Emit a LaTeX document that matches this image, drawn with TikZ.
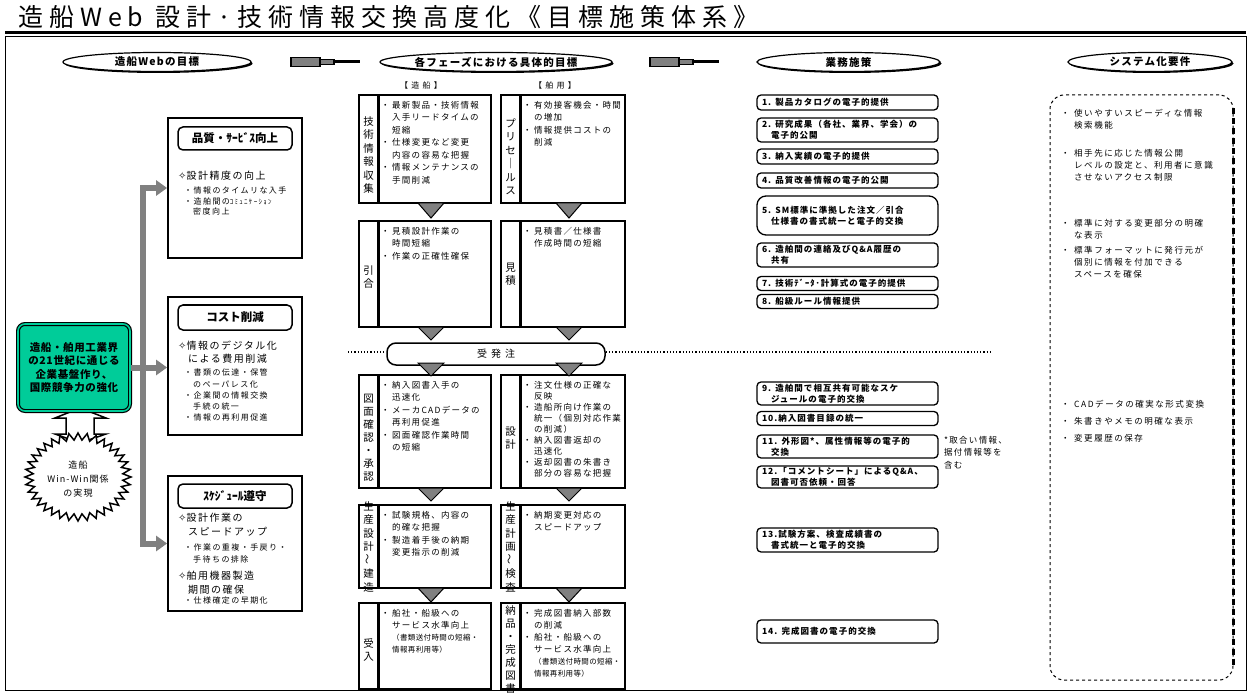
\documentclass[tikz,border=0pt]{standalone}
\usepackage{fontspec}
\setmainfont{Noto Sans CJK JP}
\newfontfamily\dv{DejaVu Sans}
\usetikzlibrary{shapes.geometric,arrows.meta}
\newcommand{\LS}[1]{\addfontfeature{LetterSpace=#1}}
\newcommand{\fsz}[2]{\fontsize{#1}{#2}\selectfont}
\newcommand{\bl}{\makebox[11pt][l]{・}}
\newcommand{\ind}{\hspace*{11pt}}
\newcommand{\sbl}{\makebox[13pt][l]{・}}
\newcommand{\sind}{\hspace*{13pt}}
\newcommand{\dia}{{\dv ✧}}
\newcommand{\til}{\rotatebox{90}{～}}
\definecolor{tealg}{RGB}{0,204,153}
\definecolor{midgray}{RGB}{128,128,128}
\newcommand{\dtri}[3]{\draw[ptri] (#1-13,#2) -- (#1+13,#2) -- (#1,#3) -- cycle;}
\begin{document}
\begin{tikzpicture}[x=1pt,y=-1pt,
  pbox/.style={draw, line width=1.8pt, inner sep=0pt, fill=white},
  pdiv/.style={line width=3pt},
  vlab/.style={font=\fsz{10.5}{13.5}, align=center, inner sep=0pt},
  ptxt/.style={font=\fsz{8.5}{12.5}\LS{15}, align=left, inner sep=0pt, anchor=north west},
  ptri/.style={draw, fill=midgray, line width=1pt, line join=miter},
  goalbox/.style={draw, line width=1.8pt, inner sep=0pt, minimum width=134, fill=white},
  gtitle/.style={draw, line width=1.5pt, rounded corners=5pt, minimum width=114, inner sep=0pt, font=\bfseries\fsz{11.5}{13}},
  gtxt/.style={align=left, inner sep=0pt, anchor=north west},
  hdr/.style={ellipse, draw, line width=1.2pt, fill=white, inner sep=0pt, minimum height=19, font=\bfseries\fsz{10.5}{12}\LS{12}},
  hsh/.style={ellipse, fill=black, inner sep=0pt, minimum height=19},
  mbox/.style={draw, line width=1.3pt, rounded corners=4pt, inner xsep=5pt, inner ysep=1pt, text width=171pt, align=left, font=\bfseries\fsz{8.5}{11}\LS{12}},
  stxt/.style={font=\fsz{8.5}{12}\LS{18}, align=left, inner sep=0pt, anchor=north west},
  gline/.style={line width=6pt, midgray},
  garr/.style={line width=6pt, midgray, -{Triangle[length=11pt,width=15pt]}},
]
\useasboundingbox (0,0) rectangle (1251,695);
\fill[white] (0,0) rectangle (1251,695);

% ---------- title and frame ----------
\node[anchor=west, inner sep=0pt, font=\fsz{25}{30}\LS{24}] (title) at (18,17) {造船Web 設計·技術情報交換高度化《目標施策体系》};
\draw[line width=2.4pt] (5,32.5) -- (1246,32.5);
\draw[line width=0.8pt] (5,36.5) -- (1246,36.5);
\draw[line width=1pt] (5,36.5) -- (5,690) -- (1246,690) -- (1246,36.5);

% ---------- header ellipses ----------
\node[hsh, minimum width=188] (h1s) at (158.5,63.5) {};
\node[hdr, minimum width=188] (h1) at (157,62) {造船Webの目標};
\node[hsh, minimum width=232] (h2s) at (497.5,63.5) {};
\node[hdr, minimum width=232] (h2) at (496,62) {各フェーズにおける具体的目標};
\node[hsh, minimum width=183] (h3s) at (850,63.5) {};
\node[hdr, minimum width=183] (h3) at (848.5,62) {業務施策};
\node[hsh, minimum width=164] (h4s) at (1151.5,63.5) {};
\node[hdr, minimum width=164] (h4) at (1150,62) {システム化要件};

% pipes between headers
\foreach \s in {0pt,359pt}{
 \begin{scope}[xshift=\s]
  \draw[line width=1.2pt, fill=midgray] (291,57.5) rectangle (320,66.5);
  \draw[line width=1.2pt, fill=midgray] (320,59.5) rectangle (334,64.5);
  \fill (334,60.5) rectangle (360,63.5);
 \end{scope}
}

\node[font=\fsz{8}{10}\LS{40}, inner sep=0pt] (hz) at (421,85) {【造船】};
\node[font=\fsz{8}{10}\LS{40}, inner sep=0pt] (hh) at (555,85) {【舶用】};

% ---------- left: goals ----------
% hollow double arrow
\draw[line width=1.5pt, fill=white, line join=miter] (80,408) -- (106,418) -- (94,418) -- (94,434) -- (106,434) -- (80,443) -- (55,434) -- (66,434) -- (66,418) -- (55,418) -- cycle;
\node[draw, line width=1.2pt, double=tealg, double distance=1.6pt, fill=tealg, rounded corners=7pt, minimum width=112, minimum height=87, inner sep=0pt, align=center, font=\bfseries\fsz{10.5}{13.5}\LS{6}] (green) at (74,367.5) {造船・舶用工業界\\の21世紀に通じる\\企業基盤作り、\\国際競争力の強化};

% starburst
\draw[line width=1.5pt, fill=white, line join=miter] (131,477) \foreach \i in {1,...,71} { -- ({78+(53-8*mod(\i,2))*cos(5*\i)}, {477+(44-7*mod(\i,2))*sin(5*\i)}) } -- cycle;
\node[align=center, font=\fsz{9}{14}\LS{12}, inner sep=0pt] (star) at (78,479) {造船\\Win-Win関係\\の実現};

% goal boxes
\node[goalbox, minimum height=140] (b1) at (235,188) {};
\node[gtitle, minimum height=23] (b1h) at (235,138.5) {品質・ｻｰﾋﾞｽ向上};
\node[gtxt, font=\fsz{10}{13}\LS{15}] (b1a) at (178,171) {\dia 設計精度の向上};
\node[gtxt, font=\fsz{8}{10.3}\LS{18}] (b1b) at (184,187) {・情報のタイムリな入手\\・造舶間の{\fsz{7}{10}ｺﾐｭﾆｹｰｼｮﾝ}\\\hspace*{9pt}密度向上};

\node[goalbox, minimum height=138] (b2) at (235,366) {};
\node[gtitle, minimum height=25] (b2h) at (235,317.5) {コスト削減};
\node[gtxt, font=\fsz{10}{13}\LS{15}] (b2a) at (178,341) {\dia 情報のデジタル化\\\hspace*{10pt}による費用削減};
\node[gtxt, font=\fsz{8}{11.2}\LS{18}] (b2b) at (184,369) {・書類の伝達・保管\\\hspace*{9pt}のペーパレス化\\・企業間の情報交換\\\hspace*{9pt}手続の統一\\・情報の再利用促進};

\node[goalbox, minimum height=135] (b3) at (235,543.5) {};
\node[gtitle, minimum height=24] (b3h) at (235,496) {ｽｹｼﾞｭｰﾙ遵守};
\node[gtxt, font=\fsz{10}{14}\LS{15}] (b3a) at (178,513) {\dia 設計作業の\\\hspace*{10pt}スピードアップ};
\node[gtxt, font=\fsz{8}{12}\LS{18}] (b3b) at (184,544) {・作業の重複・手戻り・\\\hspace*{9pt}手待ちの排除};
\node[gtxt, font=\fsz{10}{13.5}\LS{15}] (b3c) at (178,571) {\dia 舶用機器製造\\\hspace*{10pt}期間の確保};
\node[gtxt, font=\fsz{8}{12}\LS{18}] (b3d) at (184,597) {・仕様確定の早期化};

% gray connectors
\coordinate (jt) at (143,188);
\coordinate (jb) at (143,543.5);
\draw[gline, line cap=rect] (jb) -- (jt);
\draw[garr] (jt) -- (b1.west);
\draw[garr] (green.east) -- (green.east -| b2.west);
\draw[garr] (jb) -- (b3.west);

% ---------- middle: phase boxes ----------
% row 1
\node[pbox, minimum width=132, minimum height=108] (l1) at (425,149) {};
\draw[pdiv] (378,95) -- (378,203);
\node[vlab] (l1l) at (368.5,155) {技\\術\\情\\報\\収\\集};
\node[ptxt] (l1t) at (381,101) {\bl 最新製品・技術情報\\\ind 入手リードタイムの\\\ind 短縮\\\bl 仕様変更など変更\\\ind 内容の容易な把握\\\bl 情報メンテナンスの\\\ind 手間削減};
\node[pbox, minimum width=124, minimum height=108] (r1) at (563,149) {};
\draw[pdiv] (520,95) -- (520,203);
\node[vlab] (r1l) at (510.5,157) {プ\\リ\\セ\\｜\\ル\\ス};
\node[ptxt] (r1t) at (523,101) {\bl 有効接客機会・時間\\\ind の増加\\\bl 情報提供コストの\\\ind 削減};
% row 2
\node[pbox, minimum width=132, minimum height=106] (l2) at (425,274) {};
\draw[pdiv] (378,221) -- (378,327);
\node[vlab] (l2l) at (368.5,277) {引\\合};
\node[ptxt] (l2t) at (381,227) {\bl 見積設計作業の\\\ind 時間短縮\\\bl 作業の正確性確保};
\node[pbox, minimum width=124, minimum height=106] (r2) at (563,274) {};
\draw[pdiv] (520,221) -- (520,327);
\node[vlab] (r2l) at (510.5,274) {見\\積};
\node[ptxt] (r2t) at (523,227) {\bl 見積書／仕様書\\\ind 作成時間の短縮};
% order bar
\node[draw, line width=1.5pt, rounded corners=9pt, minimum width=218, minimum height=22, inner sep=0pt, font=\fsz{10}{12}\LS{40}] (jh) at (496,354) {受発注};
\coordinate (dl) at (348,352);
\coordinate (dr) at (990,352);
\draw[dotted, line width=1.2pt] (dl) -- (dl -| jh.west);
\draw[dotted, line width=1.2pt] (dr -| jh.east) -- (dr);
% row 3
\node[pbox, minimum width=132, minimum height=113] (l3) at (425,431.5) {};
\draw[pdiv] (378,375) -- (378,488);
\node[vlab, font=\fsz{10.5}{13}] (l3l) at (368.5,438) {図\\面\\確\\認\\・\\承\\認};
\node[ptxt] (l3t) at (381,381) {\bl 納入図書入手の\\\ind 迅速化\\\bl メーカCADデータの\\\ind 再利用促進\\\bl 図面確認作業時間\\\ind の短縮};
\node[pbox, minimum width=124, minimum height=113] (r3) at (563,431.5) {};
\draw[pdiv] (520,375) -- (520,488);
\node[vlab] (r3l) at (510.5,438) {設\\計};
\node[ptxt, font=\fsz{8.5}{11}\LS{15}] (r3t) at (523,381) {\bl 注文仕様の正確な\\\ind 反映\\\bl 造船所向け作業の\\\ind 統一（個別対応作業\\\ind の削減）\\\bl 納入図書返却の\\\ind 迅速化\\\bl 返却図書の朱書き\\\ind 部分の容易な把握};
% row 4
\node[pbox, minimum width=132, minimum height=83] (l4) at (425,546.5) {};
\draw[pdiv] (378,505) -- (378,588);
\node[vlab, anchor=north] (l4l) at (368.5,501) {生\\産\\設\\計\\\til\\建\\造};
\node[ptxt] (l4t) at (381,511) {\bl 試験規格、内容の\\\ind 的確な把握\\\bl 製造着手後の納期\\\ind 変更指示の削減};
\node[pbox, minimum width=124, minimum height=83] (r4) at (563,546.5) {};
\draw[pdiv] (520,505) -- (520,588);
\node[vlab, anchor=north] (r4l) at (510.5,501) {生\\産\\計\\画\\\til\\検\\査};
\node[ptxt] (r4t) at (523,511) {\bl 納期変更対応の\\\ind スピードアップ};
% row 5
\node[pbox, minimum width=132, minimum height=86] (l5) at (425,646) {};
\draw[pdiv] (378,603) -- (378,689);
\node[vlab] (l5l) at (368.5,650) {受\\入};
\node[ptxt, font=\fsz{8.5}{12}\LS{15}] (l5t) at (381,609) {\bl 船社・船級への\\\ind サービス水準向上\\\ind{\fsz{7.5}{12}\LS{5}（書類送付時間の短縮・}\\\ind{\fsz{7.5}{12}\LS{5}情報再利用等）}};
\node[pbox, minimum width=124, minimum height=86] (r5) at (563,646) {};
\draw[pdiv] (520,603) -- (520,689);
\node[vlab, anchor=north, font=\fsz{10.5}{13}] (r5l) at (510.5,605) {納\\品\\・\\完\\成\\図\\書};
\node[ptxt, font=\fsz{8.5}{12}\LS{15}] (r5t) at (523,609) {\bl 完成図書納入部数\\\ind の削減\\\bl 船社・船級への\\\ind サービス水準向上\\\ind{\fsz{7.5}{12}\LS{5}（書類送付時間の短縮・}\\\ind{\fsz{7.5}{12}\LS{5}情報再利用等）}};
% triangles
\foreach \yt/\yb in {203/218, 327/340, 363/376, 488/501, 588/602}{
  \dtri{431}{\yt}{\yb}
  \dtri{569}{\yt}{\yb}
}

% ---------- business measures ----------
\node[mbox, minimum height=15] (m1) at (847.5,102.5) {1. 製品カタログの電子的提供};
\node[mbox, minimum height=24] (m2) at (847.5,130) {2. 研究成果（各社、業界、学会）の\\\hspace*{9pt}電子的公開};
\node[mbox, minimum height=15] (m3) at (847.5,156.5) {3. 納入実績の電子的提供};
\node[mbox, minimum height=15] (m4) at (847.5,180.5) {4. 品質改善情報の電子的公開};
\node[mbox, minimum height=39, rounded corners=9pt] (m5) at (847.5,215.5) {5. SM標準に準拠した注文／引合\\\hspace*{9pt}仕様書の書式統一と電子的交換};
\node[mbox, minimum height=24] (m6) at (847.5,255) {6. 造舶間の連絡及びQ\&A履歴の\\\hspace*{9pt}共有};
\node[mbox, minimum height=14] (m7) at (847.5,283.5) {7. 技術ﾃﾞｰﾀ･計算式の電子的提供};
\node[mbox, minimum height=14] (m8) at (847.5,301.5) {8. 船級ルール情報提供};
\node[mbox, minimum height=23] (m9) at (847.5,393.5) {9. 造舶間で相互共有可能なスケ\\\hspace*{9pt}ジュールの電子的交換};
\node[mbox, minimum height=14] (m10) at (847.5,418.5) {10.納入図書目録の統一};
\node[mbox, minimum height=23] (m11) at (847.5,446.5) {11. 外形図*、属性情報等の電子的\\\hspace*{9pt}交換};
\node[mbox, minimum height=22] (m12) at (847.5,477) {12.「コメントシート」によるQ\&A、\\\hspace*{9pt}図書可否依頼・回答};
\node[mbox, minimum height=24] (m13) at (847.5,540) {13.試験方案、検査成績書の\\\hspace*{9pt}書式統一と電子的交換};
\node[mbox, minimum height=23] (m14) at (847.5,631.5) {14. 完成図書の電子的交換};
\node[anchor=north west, align=left, inner sep=0pt, font=\fsz{8.5}{12.5}\LS{15}] (note) at (944,436) {*取合い情報、\\据付情報等を\\含む};

% ---------- system requirements ----------
\node[draw, dashed, line width=1pt, rounded corners=14pt, minimum width=183, minimum height=585, inner sep=0pt] (sys) at (1141.5,387.5) {};
\draw[line width=2.2pt, dash pattern=on 6pt off 4pt] ([yshift=-14pt]sys.north east) -- ([yshift=14pt]sys.south east);
\node[stxt] (s1) at (1061,109) {\sbl 使いやすいスピーディな情報\\\sind 検索機能};
\node[stxt] (s2) at (1061,149) {\sbl 相手先に応じた情報公開\\\sind レベルの設定と、利用者に意識\\\sind させないアクセス制限};
\node[stxt] (s3) at (1061,219) {\sbl 標準に対する変更部分の明確\\\sind な表示};
\node[stxt] (s4) at (1061,246) {\sbl 標準フォーマットに発行元が\\\sind 個別に情報を付加できる\\\sind スペースを確保};
\node[stxt] (s5) at (1061,400) {\sbl CADデータの確実な形式変換};
\node[stxt] (s6) at (1061,417) {\sbl 朱書きやメモの明確な表示};
\node[stxt] (s7) at (1061,434) {\sbl 変更履歴の保存};
\end{tikzpicture}
\end{document}
